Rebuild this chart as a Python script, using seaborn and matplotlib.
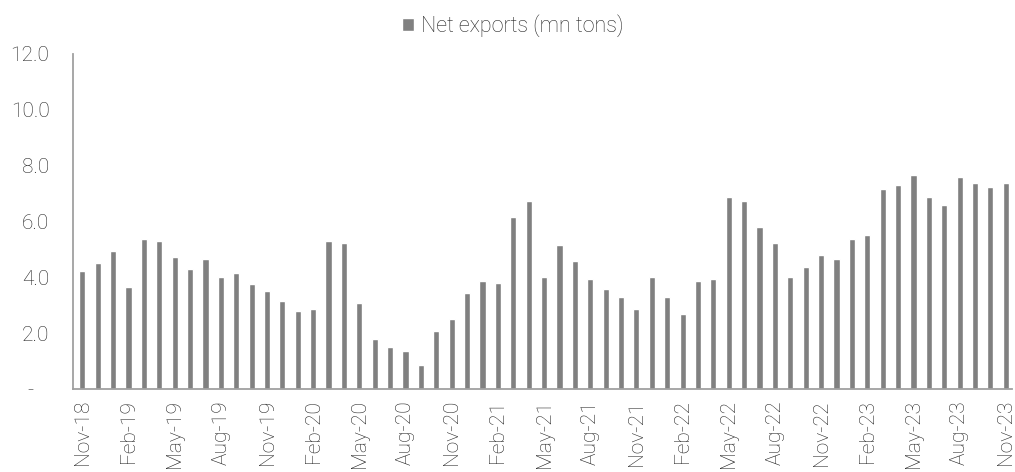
import pandas as pd
import matplotlib
matplotlib.use("Agg")
import matplotlib.pyplot as plt
import seaborn as sns

# monthly net exports, Nov-18 .. Nov-23
months = pd.date_range("2018-11-01", "2023-11-01", freq="MS").strftime("%b-%y").tolist()
net_exports = [
    4.23, 4.52, 4.95, 3.66, 5.37, 5.31, 4.73, 4.31, 4.66, 4.02, 4.16, 3.74,
    3.51, 3.16, 2.80, 2.87, 5.31, 5.22, 3.08, 1.80, 1.51, 1.36, 0.87, 2.08,
    2.51, 3.44, 3.86, 3.79, 6.15, 6.72, 4.02, 5.15, 4.58, 3.94, 3.59, 3.30,
    2.87, 4.02, 3.30, 2.67, 3.87, 3.94, 6.87, 6.73, 5.80, 5.22, 4.02, 4.37,
    4.80, 4.66, 5.37, 5.51, 7.16, 7.30, 7.66, 6.87, 6.59, 7.58, 7.37, 7.23,
    7.37,
]
yticks = [0, 2, 4, 6, 8, 10, 12]
ytick_labels = ["-   ", "2.0", "4.0", "6.0", "8.0", "10.0", "12.0"]

df = pd.DataFrame({"month": months, "value": net_exports})

sns.set_style("white")
plt.rcParams["font.family"] = ["Roboto", "DejaVu Sans"]

fig = plt.figure(figsize=(10.15, 4.72), dpi=100)
ax = fig.add_axes([0.072, 0.176, 0.925, 0.71])

sns.barplot(data=df, x="month", y="value", color="#808080", saturation=1,
            width=0.4, ax=ax, label="Net exports (mn tons)")

ax.set_ylim(0, 12)
ax.set_xlim(-0.6, len(months) - 0.6)
ax.set_yticks(yticks)
ax.set_yticklabels(ytick_labels)
ax.set_xticks(range(0, len(months), 3))
ax.set_xticklabels(months[::3], rotation=90)
ax.set_xlabel("")
ax.set_ylabel("")

for s in ["top", "right"]:
    ax.spines[s].set_visible(False)
for s in ["left", "bottom"]:
    ax.spines[s].set_color("#a0a0a0")
    ax.spines[s].set_linewidth(1.3)

ax.tick_params(axis="y", length=5, width=1.2, color="#a0a0a0", labelsize=15,
               labelcolor="#262626", pad=12)
ax.tick_params(axis="x", length=0, labelsize=15, labelcolor="#262626", pad=8)
for lbl in ax.get_xticklabels() + ax.get_yticklabels():
    lbl.set_fontweight("light")

leg = ax.legend(loc="upper center", bbox_to_anchor=(0.468, 1.175), frameon=False,
                handlelength=0.6, handleheight=0.6, handletextpad=0.3,
                fontsize=15.5)
for t in leg.get_texts():
    t.set_fontweight("light")
    t.set_color("#262626")

fig.savefig("out.png", dpi=100)
